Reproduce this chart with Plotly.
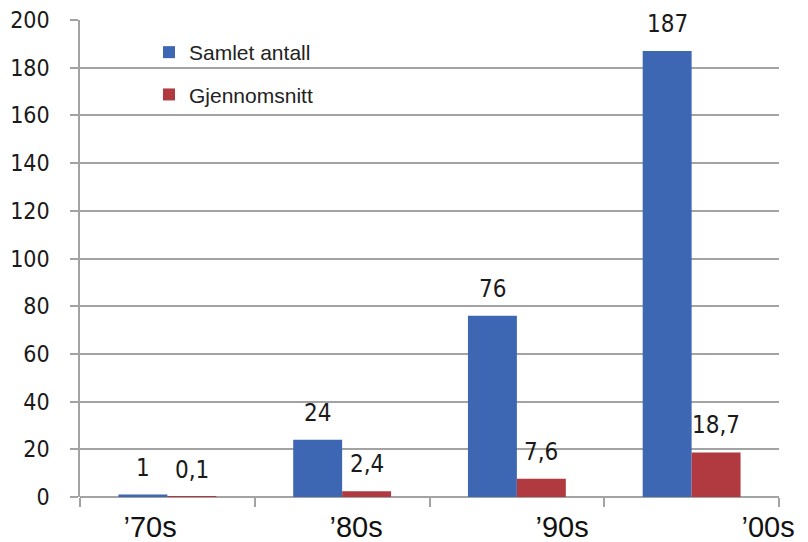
import plotly.graph_objects as go

categories = ["’70s", "’80s", "’90s", "’00s"]
samlet_antall = [1, 24, 76, 187]
gjennomsnitt = [0.1, 2.4, 7.6, 18.7]
series_names = ["Samlet antall", "Gjennomsnitt"]
y_ticks = [0, 20, 40, 60, 80, 100, 120, 140, 160, 180, 200]

BLUE = "#3d67b3"
RED = "#b03a40"
GRID = "#a3a3a3"
NARROW = "DejaVu Sans Condensed, Liberation Sans Narrow, sans-serif"
SANS = "Liberation Sans, Arial, sans-serif"

def fmt(v):
    s = f"{v:g}"
    return s.replace(".", ",")

xpos = list(range(len(categories)))
BARGAP = 0.44
half = (1 - BARGAP) / 4  # center offset of each bar in a pair

fig = go.Figure()
fig.add_trace(go.Bar(x=xpos, y=samlet_antall, name=series_names[0],
                     marker=dict(color=BLUE, line=dict(width=0)),
                     legendgroup="a", hoverinfo="skip"))
fig.add_trace(go.Bar(x=xpos, y=gjennomsnitt, name=series_names[1],
                     marker=dict(color=RED, line=dict(width=0)),
                     legendgroup="b", hoverinfo="skip"))
# invisible carrier trace for the category label axis
fig.add_trace(go.Scatter(x=xpos, y=[0] * len(xpos), xaxis="x2", mode="markers",
                         marker=dict(opacity=0), showlegend=False, hoverinfo="skip"))

annotations = []
for i, (a, b) in enumerate(zip(samlet_antall, gjennomsnitt)):
    for val, off in ((a, -half), (b, half)):
        annotations.append(dict(x=i + off, y=val, xref="x", yref="y", text=fmt(val),
                                showarrow=False, yanchor="middle", yshift=27,
                                font=dict(family=NARROW, size=24, color="#1a1a1a")))

fig.update_layout(
    width=808, height=542,
    margin=dict(l=80, r=29, t=20, b=45, autoexpand=False),
    paper_bgcolor="white", plot_bgcolor="white",
    barmode="group", bargap=BARGAP, bargroupgap=0,
    showlegend=True,
    legend=dict(x=(149 - 80) / 699, xanchor="left", y=1 - (32 - 20) / 477, yanchor="top",
                bgcolor="rgba(0,0,0,0)", tracegroupgap=12, itemwidth=30,
                font=dict(family=SANS, size=21, color="#222222")),
    xaxis=dict(range=[-0.5, len(categories) - 0.5], tickvals=[i - 0.5 for i in range(len(categories) + 1)],
               showticklabels=False, ticks="outside", ticklen=9, tickwidth=1.5, tickcolor=GRID,
               showgrid=False, zeroline=False, showline=False, fixedrange=True, automargin=False),
    xaxis2=dict(overlaying="x", anchor="y", side="bottom", range=[-0.34, 3.053],
                tickvals=xpos, ticktext=categories, ticks="", showgrid=False, zeroline=False,
                showline=False, automargin=False, ticklabelstandoff=10,
                tickfont=dict(family=SANS, size=29, color="#111111")),
    yaxis=dict(range=[0, 200], tickvals=y_ticks, showgrid=True, gridcolor=GRID, gridwidth=2,
               zeroline=True, zerolinecolor=GRID, zerolinewidth=2,
               showline=True, linecolor=GRID, linewidth=1.5,
               ticks="outside", ticklen=8, tickcolor=GRID, tickwidth=1.5,
               ticklabelstandoff=16, automargin=False,
               tickfont=dict(family=NARROW, size=23, color="#1a1a1a")),
    annotations=annotations,
)

fig.write_html("out.html")
